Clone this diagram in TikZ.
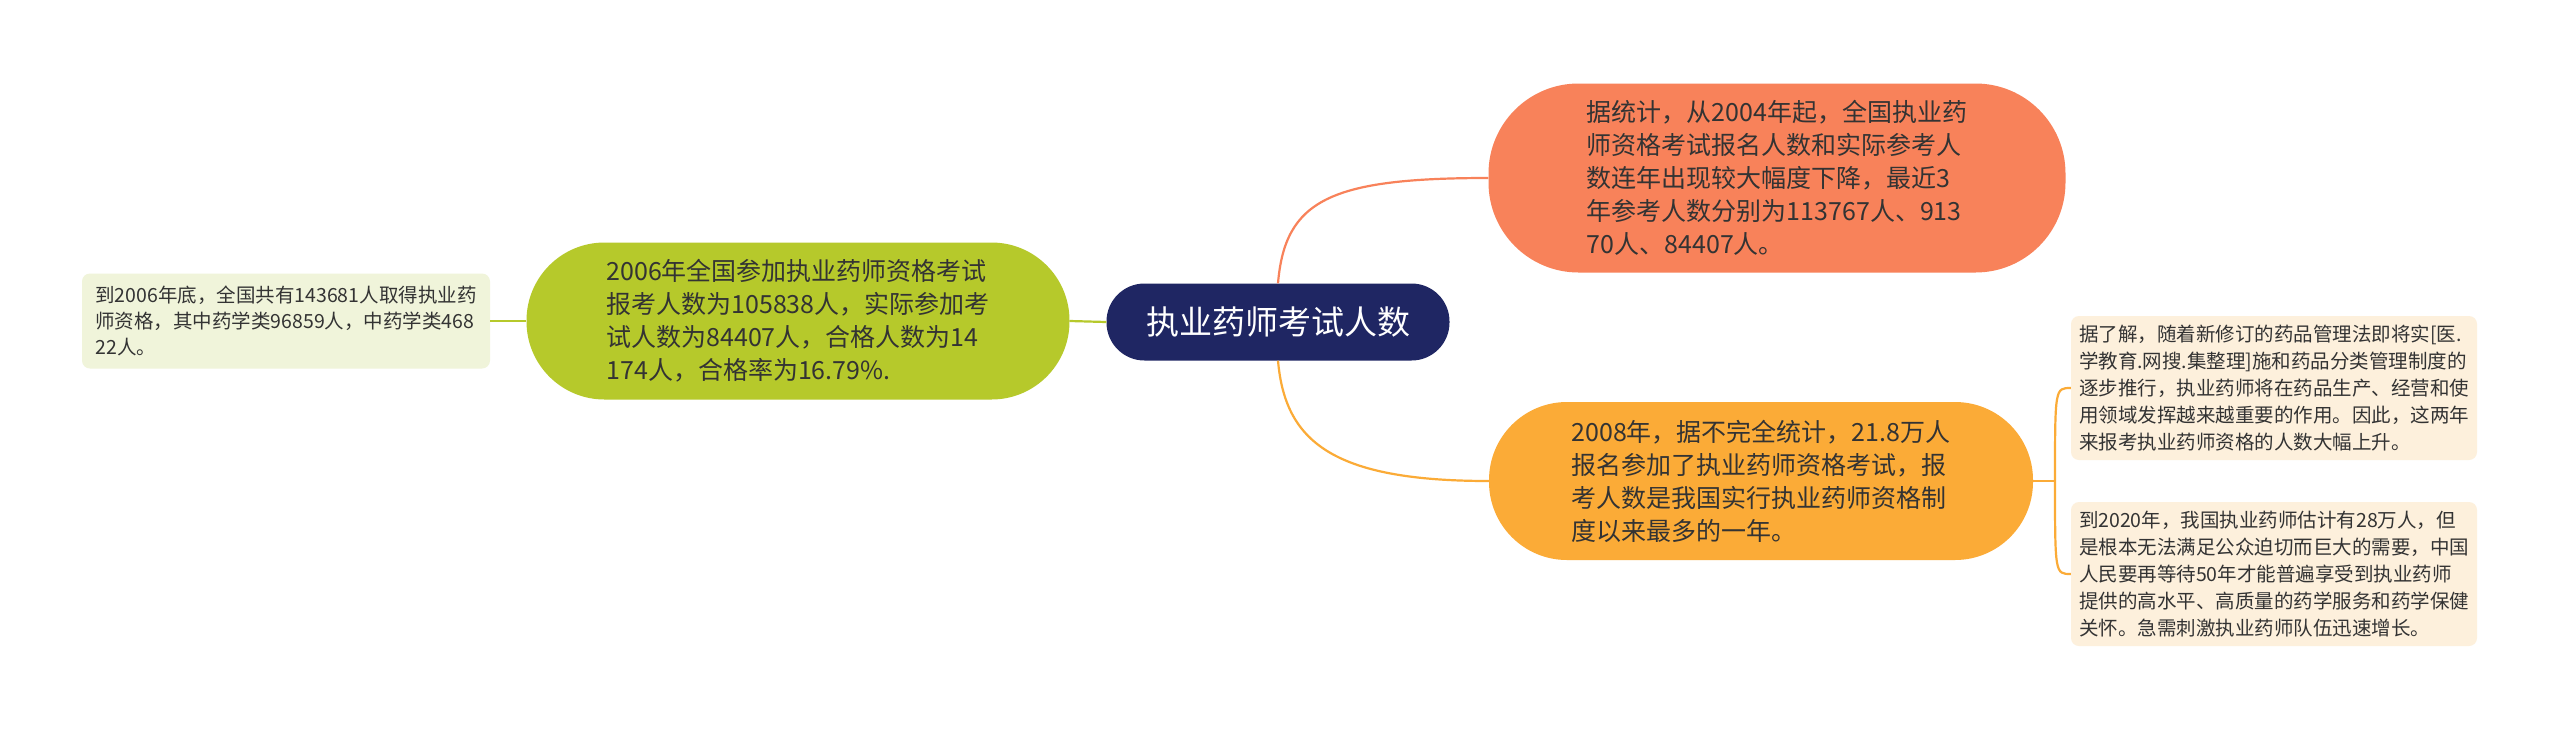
\documentclass[tikz,border=0pt]{standalone}
\usepackage{fontspec}
\setmainfont{Noto Sans CJK SC}
\definecolor{navy}{HTML}{1F2663}
\definecolor{coral}{HTML}{F8825A}
\definecolor{amber}{HTML}{FBAB37}
\definecolor{lime}{HTML}{B6C92B}
\definecolor{limebg}{HTML}{F0F4DA}
\definecolor{creambg}{HTML}{FDF0DC}
\definecolor{txt}{HTML}{333333}
\begin{document}
\begin{tikzpicture}[x=1pt,y=-1pt,
  big/.style={rounded corners=75pt,minimum height=#1,inner sep=0pt,text=txt,align=left,font=\fontsize{25}{33}\selectfont},
  small/.style={rounded corners=8pt,inner sep=0pt,text=txt,align=left,font=\fontsize{19.5}{27}\selectfont},
  lk/.style={line width=2.2pt}]
\useasboundingbox (0,0) rectangle (2560,729);
\fill[white] (0,0) rectangle (2560,729);
\node[fill=navy,rounded corners=38pt,minimum width=343pt,minimum height=77pt,text=white,font=\fontsize{33}{38}\selectfont] (c) at (1278,322) {执业药师考试人数};
\node[big=189pt,fill=coral,minimum width=577pt,rounded corners=90pt] (a) at (1777,178) {据统计，从2004年起，全国执业药\\师资格考试报名人数和实际参考人\\数连年出现较大幅度下降，最近3\\年参考人数分别为113767人、913\\70人、84407人。};
\node[big=158pt,fill=amber,minimum width=544pt,rounded corners=78pt] (b) at (1761,481) {2008年，据不完全统计，21.8万人\\报名参加了执业药师资格考试，报\\考人数是我国实行执业药师资格制\\度以来最多的一年。};
\node[big=157pt,fill=lime,minimum width=543pt,rounded corners=78pt] (g) at (798,321) {2006年全国参加执业药师资格考试\\报考人数为105838人，实际参加考\\试人数为84407人，合格人数为14\\174人，合格率为16.79\%.};
\node[small,fill=limebg,minimum width=408pt,minimum height=95pt,font=\fontsize{19.5}{26}\selectfont] (l) at (286,321) {到2006年底，全国共有143681人取得执业药\\师资格，其中药学类96859人，中药学类468\\22人。};
\node[small,fill=creambg,minimum width=406pt,minimum height=144pt] (r1) at (2274,388) {据了解，随着新修订的药品管理法即将实[医.\\学教育.网搜.集整理]施和药品分类管理制度的\\逐步推行，执业药师将在药品生产、经营和使\\用领域发挥越来越重要的作用。因此，这两年\\来报考执业药师资格的人数大幅上升。};
\node[small,fill=creambg,minimum width=406pt,minimum height=144pt] (r2) at (2274,574) {到2020年，我国执业药师估计有28万人，但\\是根本无法满足公众迫切而巨大的需要，中国\\人民要再等待50年才能普遍享受到执业药师\\提供的高水平、高质量的药学服务和药学保健\\关怀。急需刺激执业药师队伍迅速增长。};
\draw[lk,coral] (c.north) .. controls (1285,200) and (1330,178) .. (a.west);
\draw[lk,amber] (c.south) .. controls (1285,440) and (1330,481) .. (b.west);
\draw[lk,lime] (c.west) -- (g.east);
\draw[lk,lime] (g.west) -- (l.east);
\coordinate (j) at (2055,481);
\draw[lk,amber] (b.east) -- (j);
\draw[lk,amber] (r1.west) .. controls (2055,388) .. (j) .. controls (2055,574) .. (r2.west);
\end{tikzpicture}
\end{document}
